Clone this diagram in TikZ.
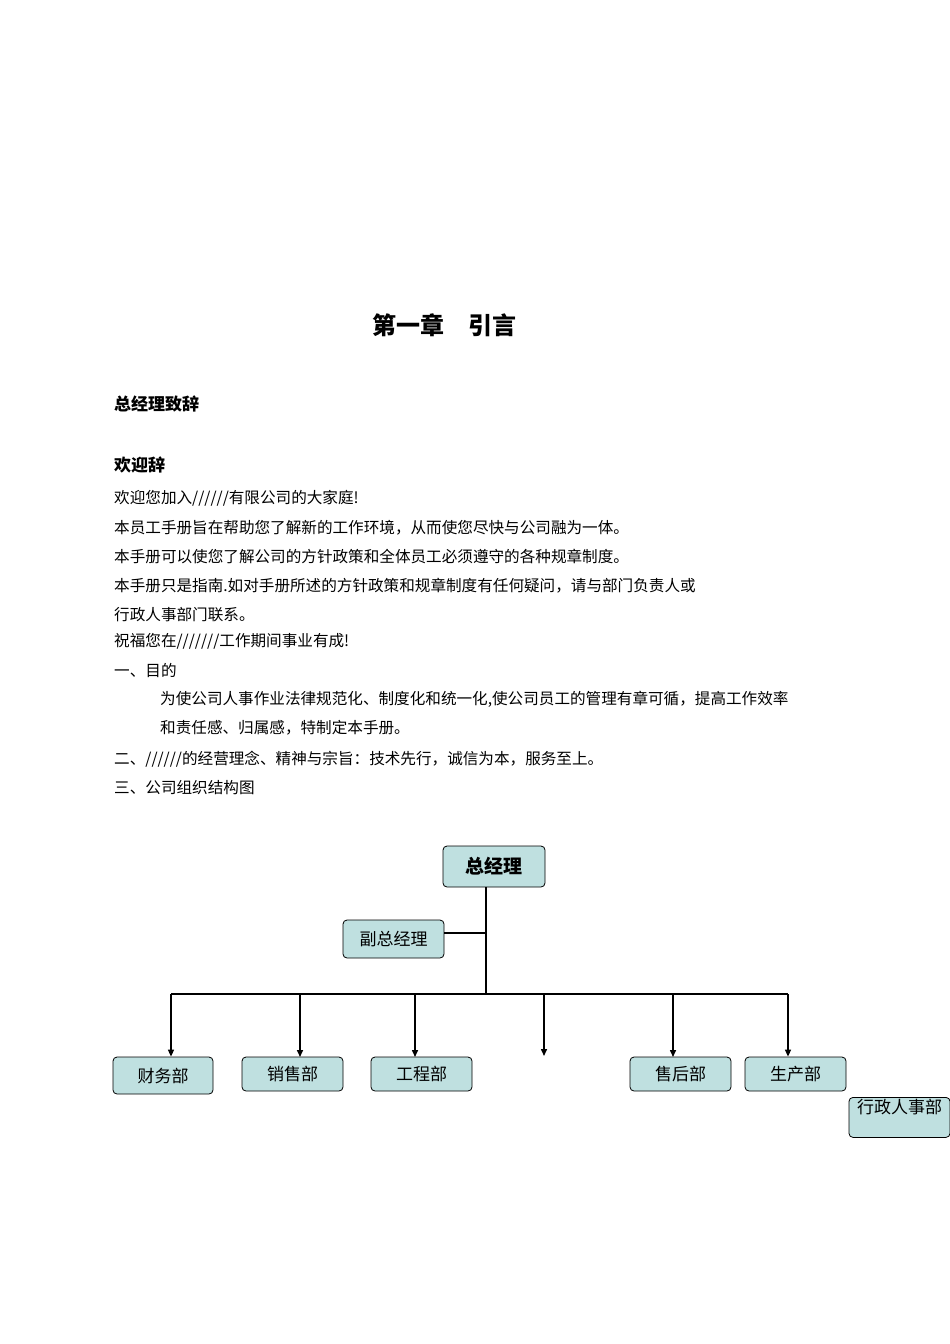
\documentclass[tikz,border=0pt]{standalone}
\usepackage{fontspec}
\setmainfont{Noto Sans CJK SC}
\usetikzlibrary{arrows.meta}
\begin{document}
\begin{tikzpicture}[x=1pt,y=-1pt,
  txt/.style={anchor=west,inner sep=0pt,font=\fontsize{15.6}{17}\selectfont},
  box/.style={draw,rounded corners=4pt,fill=boxfill,line width=0.8pt,inner sep=0pt,font=\fontsize{17}{19}\selectfont},
  ln/.style={line width=1.5pt},
  arr/.style={line width=1.5pt,-{Triangle[length=7pt,width=6pt]}}]
\definecolor{boxfill}{HTML}{BFE0E0}
\useasboundingbox[fill=white] (0,0) rectangle (950,1344);
\node[inner sep=0pt,font=\fontsize{24}{26}\selectfont\bfseries] (title) at (444,325) {第一章\quad 引言};
\node[txt,font=\fontsize{17}{19}\selectfont\bfseries] (h1) at (114,404) {总经理致辞};
\node[txt,font=\fontsize{17}{19}\selectfont\bfseries] (h2) at (114,465) {欢迎辞};
\node[txt] (l1) at (114,498) {欢迎您加入//////有限公司的大家庭!};
\node[txt] (l2) at (114,528) {本员工手册旨在帮助您了解新的工作环境，从而使您尽快与公司融为一体。};
\node[txt] (l3) at (114,557) {本手册可以使您了解公司的方针政策和全体员工必须遵守的各种规章制度。};
\node[txt] (l4) at (114,586) {本手册只是指南.如对手册所述的方针政策和规章制度有任何疑问，请与部门负责人或};
\node[txt] (l5) at (114,615) {行政人事部门联系。};
\node[txt] (l6) at (114,641) {祝福您在///////工作期间事业有成!};
\node[txt] (l7) at (114,670) {一、目的};
\node[txt] (l8) at (160,699) {为使公司人事作业法律规范化、制度化和统一化,使公司员工的管理有章可循，提高工作效率};
\node[txt] (l9) at (160,728) {和责任感、归属感，特制定本手册。};
\node[txt] (l10) at (114,759) {二、//////的经营理念、精神与宗旨：技术先行，诚信为本，服务至上。};
\node[txt] (l11) at (114,788) {三、公司组织结构图};
% org chart
\node[box,minimum width=102pt,minimum height=41pt,font=\fontsize{19}{21}\selectfont\bfseries] (gm) at (494,866.5) {总经理};
\node[box,minimum width=101pt,minimum height=38pt] (vgm) at (393.5,939) {副总经理};
\node[box,minimum width=100pt,minimum height=37pt] (d1) at (163,1075.5) {财务部};
\node[box,minimum width=101pt,minimum height=34pt] (d2) at (292.5,1074) {销售部};
\node[box,minimum width=101pt,minimum height=34pt] (d3) at (421.5,1074) {工程部};
\node[box,minimum width=101pt,minimum height=34pt] (d5) at (680.5,1074) {售后部};
\node[box,minimum width=101pt,minimum height=34pt] (d6) at (795.5,1074) {生产部};
\node[box,minimum width=101pt,minimum height=40pt,anchor=north,text depth=22pt] (d7) at (899.5,1097) {行政人事部};
\coordinate (j) at (486,994);
\coordinate (jv) at (486,933);
\coordinate (hl) at (171,994);
\coordinate (hr) at (788,994);
\coordinate (e4) at (544,1056);
\draw[ln] (gm.south -| j) -- (j);
\draw[ln] (vgm.east |- jv) -- (jv);
\draw[ln] (hl) -- (hr);
\draw[arr] (hl) -- (hl |- d1.north);
\draw[arr] (300,994) -- (300,1057);
\draw[arr] (415,994) -- (415,1057);
\draw[arr] (544,994) -- (e4);
\draw[arr] (673,994) -- (673,1057);
\draw[arr] (hr) -- (hr |- d6.north);
\end{tikzpicture}
\end{document}
